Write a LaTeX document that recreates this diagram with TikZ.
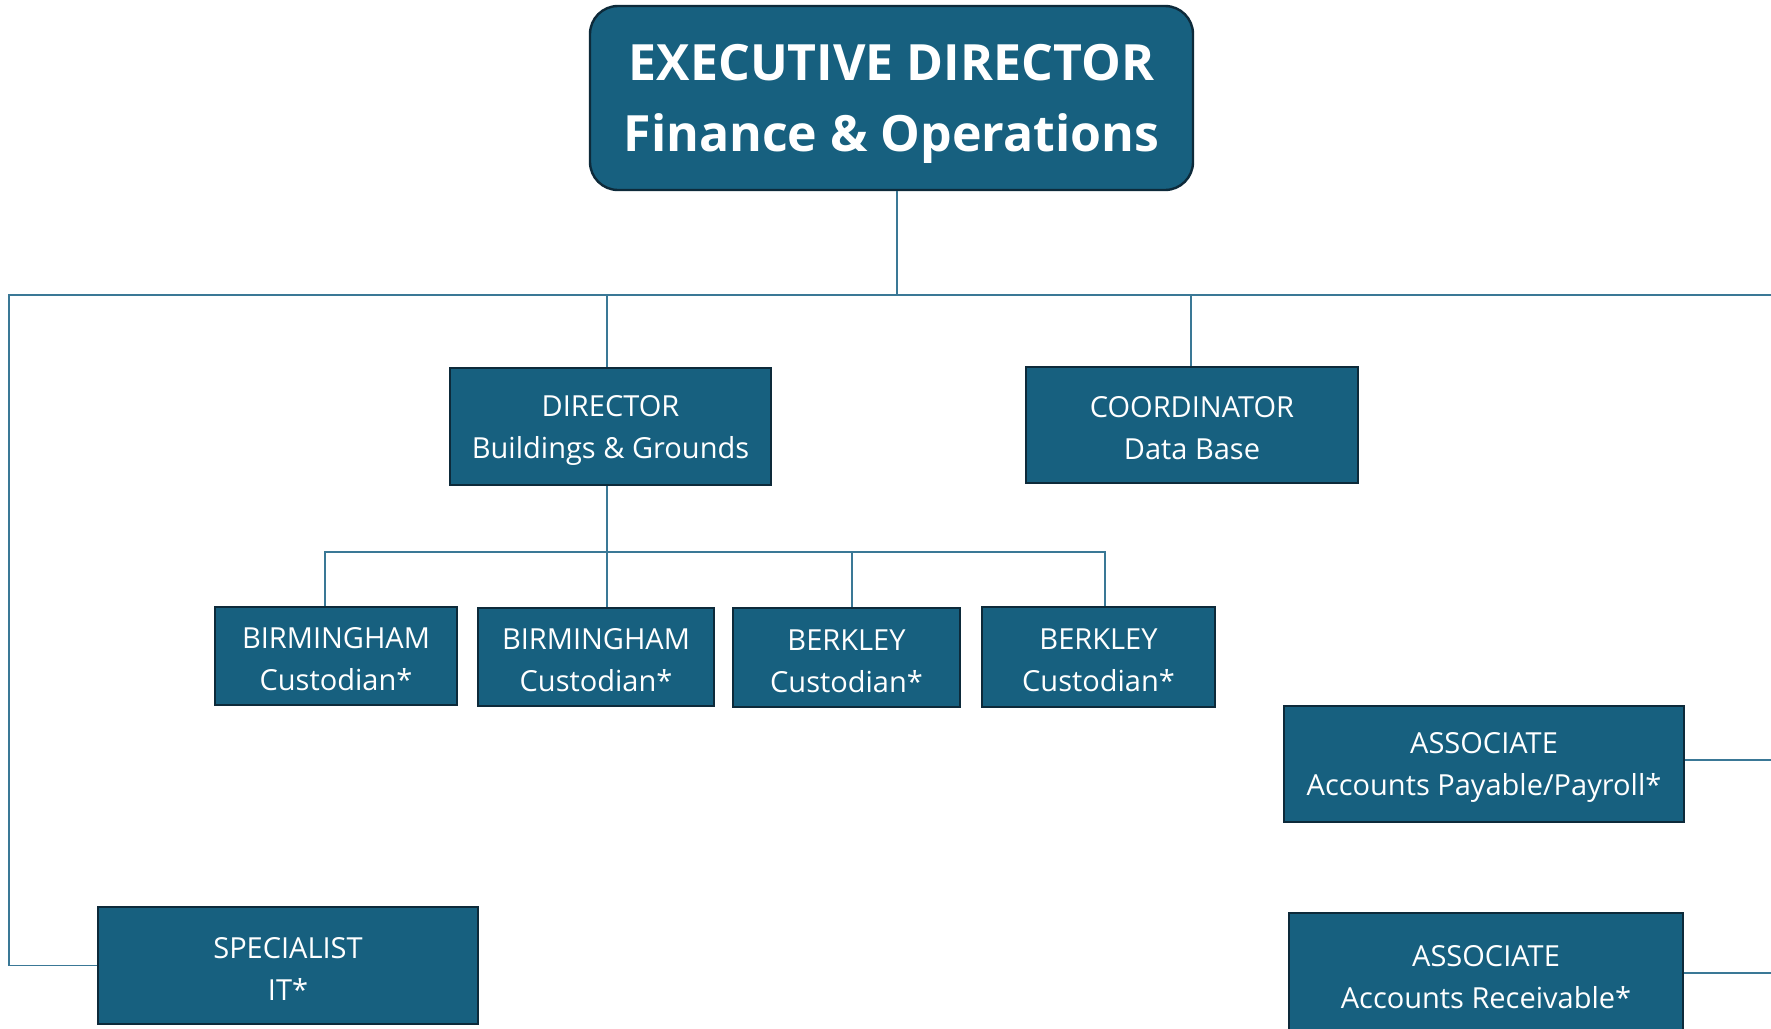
\documentclass[tikz,border=0pt]{standalone}
\usepackage{fontspec}
\setmainfont{Open Sans}
\definecolor{boxfill}{HTML}{17607F}
\definecolor{boxline}{HTML}{0D2A3A}
\definecolor{conn}{HTML}{3A7896}
\begin{document}
\begin{tikzpicture}[x=0.5pt,y=-0.5pt,
  box/.style={draw=boxline, fill=boxfill, line width=1.2pt, text=white, align=center,
    inner sep=0pt, font=\fontsize{14.5}{21}\selectfont},
  topbox/.style={box, rounded corners=14pt, font=\bfseries\fontsize{25}{35.5}\selectfont},
  link/.style={draw=conn, line width=0.8pt}]
\useasboundingbox[fill=white] (0,0) rectangle (1771,1028);
% nodes
\node[topbox, minimum width=301.5pt, minimum height=92pt] (top) at (891.5,98) {\rule{0pt}{24pt}EXECUTIVE DIRECTOR\\Finance \& Operations};
\node[box, minimum width=160.5pt, minimum height=58.5pt] (dir) at (610.5,426.5) {\rule{0pt}{14pt}DIRECTOR\\Buildings \& Grounds};
\node[box, minimum width=166pt, minimum height=58pt] (coord) at (1192,425) {\rule{0pt}{14pt}COORDINATOR\\Data Base};
\node[box, minimum width=121pt, minimum height=49pt] (c1) at (336,656) {\rule{0pt}{14pt}BIRMINGHAM\\Custodian*};
\node[box, minimum width=118pt, minimum height=49pt] (c2) at (596,657) {\rule{0pt}{14pt}BIRMINGHAM\\Custodian*};
\node[box, minimum width=113.5pt, minimum height=49.5pt] (c3) at (846.5,657.5) {\rule{0pt}{14pt}BERKLEY\\Custodian*};
\node[box, minimum width=116.5pt, minimum height=50pt] (c4) at (1098.5,657) {\rule{0pt}{14pt}BERKLEY\\Custodian*};
\node[box, minimum width=200pt, minimum height=58pt] (ap) at (1484,764) {\rule{0pt}{14pt}ASSOCIATE\\Accounts Payable/Payroll*};
\node[box, minimum width=197pt, minimum height=61pt] (ar) at (1486,974) {\rule{0pt}{14pt}ASSOCIATE\\Accounts Receivable*};
\node[box, minimum width=190pt, minimum height=58.5pt] (spec) at (288,965.5) {\rule{0pt}{14pt}SPECIALIST\\IT*};
% coordinates
\coordinate (j0) at (897,295);
\coordinate (bl) at (9,295);
\coordinate (br) at (1771,295);
\coordinate (jd) at (607,295);
\coordinate (jc) at (1191,295);
\coordinate (k1) at (325,552);
\coordinate (k2) at (607,552);
\coordinate (k3) at (852,552);
\coordinate (k4) at (1105,552);
\coordinate (ape) at (1771,760);
\coordinate (are) at (1771,973);
% connectors
\draw[link] (j0 |- top.south) -- (j0);
\draw[link] (br) -- (bl) -- (bl |- spec.west) -- (spec.west);
\draw[link] (jd) -- (jd |- dir.north);
\draw[link] (jc) -- (jc |- coord.north);
\draw[link] (k2 |- dir.south) -- (k2 |- c2.north);
\draw[link] (k1 |- c1.north) -- (k1) -- (k4) -- (k4 |- c4.north);
\draw[link] (k3) -- (k3 |- c3.north);
\draw[link] (ap.east |- ape) -- (ape);
\draw[link] (ar.east |- are) -- (are);
\end{tikzpicture}
\end{document}
